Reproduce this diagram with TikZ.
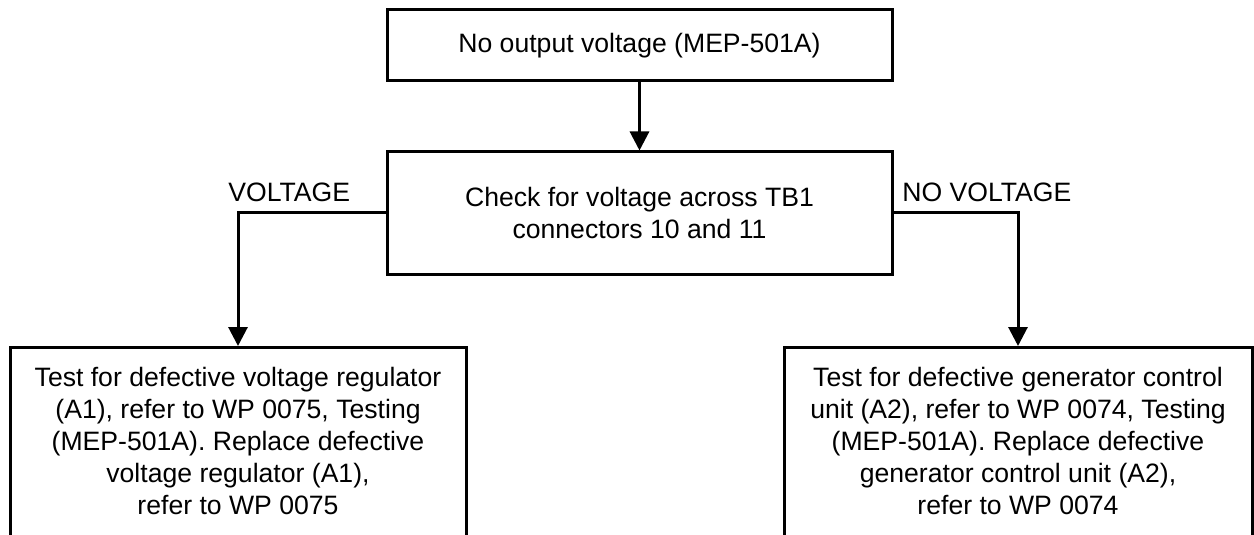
\documentclass[tikz,border=0pt]{standalone}
\usepackage{fontspec}
\setmainfont{Liberation Sans}
\usetikzlibrary{arrows.meta}
\tikzset{
  boxnode/.style={draw=black, line width=1.5pt, inner sep=0pt, rectangle},
  txt/.style={align=center, inner sep=0pt, font=\fontsize{13.3pt}{16pt}\selectfont},
  lbl/.style={inner sep=0pt, font=\fontsize{13.3pt}{16pt}\selectfont},
  arr/.style={line width=1.5pt, -{Triangle[length=9.5pt,width=9.5pt]}},
  conn/.style={line width=1.5pt}
}
\begin{document}
\begin{tikzpicture}[x=0.5pt,y=-0.5pt]
\useasboundingbox (0,0) rectangle (1254,535);
\clip (0,0) rectangle (1254,535);
\fill[white] (0,0) rectangle (1254,535);
% boxes
\node[boxnode, minimum width=252.5pt, minimum height=35.5pt] (top) at (639.5,45.5) {};
\node[txt] (toptext) at (639.5,45.5) {No output voltage (MEP-501A)};
\node[boxnode, minimum width=252.5pt, minimum height=61pt] (mid) at (639.5,213) {};
\node[txt] (midtext) at (639.5,213) {Check for voltage across TB1\\connectors 10 and 11};
\node[boxnode, minimum width=228pt, minimum height=120pt, anchor=north] (left) at (238,346) {};
\node[txt] (lefttext) at (238,441) {Test for defective voltage regulator\\(A1), refer to WP 0075, Testing\\(MEP-501A). Replace defective\\voltage regulator (A1),\\refer to WP 0075};
\node[boxnode, minimum width=234pt, minimum height=120pt, anchor=north] (right) at (1018,346) {};
\node[txt] (righttext) at (1018,441) {Test for defective generator control\\unit (A2), refer to WP 0074, Testing\\(MEP-501A). Replace defective\\generator control unit (A2),\\refer to WP 0074};
% labels
\node[lbl, anchor=base west] (vlab) at (228,201) {VOLTAGE};
\node[lbl, anchor=base west] (nvlab) at (902,201) {NO VOLTAGE};
% connectors
\draw[arr] (top.south) -- (mid.north);
\draw[arr] (mid.west) -| (left.north);
\draw[arr] (mid.east) -| (right.north);
\end{tikzpicture}
\end{document}
